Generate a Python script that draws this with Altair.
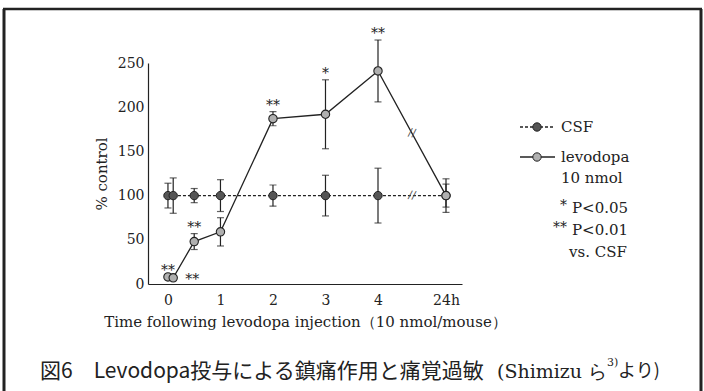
import altair as alt
import pandas as pd

# Time points (hours after injection); 24 h sits beyond a break in the axis
times = [0, 0.1, 0.5, 1, 2, 3, 4, 24]

# % control, mean and SEM
csf_mean = [100, 100, 100, 100, 100, 100, 100, 100]
csf_err = [14, 20, 8, 18, 12, 23, 31, 13]
lev_mean = [8, 7, 48, 59, 187, 192, 241, 100]
lev_err = [0, 0, 9, 16, 8, 39, 35, 19]

# Significance vs. CSF for each levodopa point
lev_sig = ["**", "**", "**", "", "**", "*", "**", ""]

tick_hours = [0, 1, 2, 3, 4, 24]
y_ticks = [0, 50, 100, 150, 200, 250]

SERIF = "DejaVu Serif"
CJK = "Noto Sans CJK JP"
INK = "#222222"

rows = []
for g, means, errs in (("CSF", csf_mean, csf_err), ("levodopa", lev_mean, lev_err)):
    for i, (t, m, e) in enumerate(zip(times, means, errs)):
        rows.append({"group": g, "idx": i, "time": t, "mean": m,
                     "lo": m - e, "hi": m + e, "err": e,
                     "sig": lev_sig[i] if g == "levodopa" else ""})
df = pd.DataFrame(rows)

caps = pd.concat([
    df[df.err > 0].assign(cap=df["lo"]),
    df[df.err > 0].assign(cap=df["hi"]),
])

# the axis is broken between 4 h and 24 h: piecewise-linear x scale
xscale = alt.Scale(domain=[-0.38, 4, 24, 24.3], range=[0, 230, 298, 314],
                   nice=False, zero=False)
yscale = alt.Scale(domain=[0, 250], nice=False)

x_axis = alt.Axis(values=tick_hours, title="Time following levodopa injection（10 nmol/mouse）",
                  labelExpr="datum.value == 24 ? '24h' : datum.label",
                  grid=False, ticks=False, labelPadding=9, labelFont=SERIF,
                  labelFontSize=14, titleFont=SERIF, titleFontSize=15,
                  titleFontWeight="normal", titlePadding=7, domainColor=INK,
                  domainWidth=1.2, labelColor=INK, titleColor=INK, labelFlush=False)
y_axis = alt.Axis(values=y_ticks, title="% control", grid=False, ticks=False,
                  labelPadding=4, labelFont=SERIF, labelFontSize=14,
                  titleFont=SERIF, titleFontSize=15, titleFontWeight="normal",
                  titlePadding=8, domainColor=INK, domainWidth=1.2,
                  labelColor=INK, titleColor=INK)

base = alt.Chart(df)
X = alt.X("time:Q", scale=xscale, axis=x_axis)
Y = alt.Y("mean:Q", scale=yscale, axis=y_axis)

csf_line = base.transform_filter(alt.datum.group == "CSF").mark_line(
    color=INK, strokeWidth=1.3, strokeDash=[3, 2]).encode(x=X, y=Y, order="idx:Q")
lev_line = base.transform_filter(alt.datum.group == "levodopa").mark_line(
    color=INK, strokeWidth=1.3).encode(x=X, y=Y, order="idx:Q")

err_rule = base.transform_filter(alt.datum.err > 0).mark_rule(
    color=INK, strokeWidth=1.2).encode(x="time:Q", y="lo:Q", y2="hi:Q")
err_cap = alt.Chart(caps).mark_tick(
    color=INK, orient="horizontal", size=7, thickness=1.2).encode(x="time:Q", y="cap:Q")

csf_pts = base.transform_filter(alt.datum.group == "CSF").mark_point(
    shape="circle", filled=True, size=70, fill="#555555", stroke=INK,
    strokeWidth=1, opacity=1).encode(x="time:Q", y="mean:Q")
lev_pts = base.transform_filter(alt.datum.group == "levodopa").mark_point(
    shape="circle", filled=True, size=70, fill="#b0b0b0", stroke=INK,
    strokeWidth=1.1, opacity=1).encode(x="time:Q", y="mean:Q")

# asterisks above the error bars (the 0.1 h point carries its mark to the right)
sig_above = base.transform_filter(
    (alt.datum.group == "levodopa") & (alt.datum.sig != "") & (alt.datum.idx != 1)
).mark_text(font=SERIF, fontSize=14, color=INK, baseline="middle", dy=-6).encode(
    x="time:Q", y="hi:Q", text="sig:N")
sig_right = base.transform_filter(
    (alt.datum.group == "levodopa") & (alt.datum.idx == 1)
).mark_text(font=SERIF, fontSize=14, color=INK, baseline="middle", dx=19, dy=2).encode(
    x="time:Q", y="mean:Q", text="sig:N")

# break marks on both curves between 4 h and 24 h
breaks = pd.DataFrame({
    "time": [14, 14],
    "mean": [(lev_mean[6] + lev_mean[7]) / 2, (csf_mean[6] + csf_mean[7]) / 2],
})
break_marks = alt.Chart(breaks).mark_text(
    text="//", font=SERIF, fontSize=11, color="#555555", angle=10).encode(
    x="time:Q", y="mean:Q")

# legend
leg_lines = pd.DataFrame({"x": [372, 372], "x2": [407, 407], "y": [64, 94],
                          "kind": ["CSF", "levodopa"]})
leg_csf_line = alt.Chart(leg_lines[leg_lines.kind == "CSF"]).mark_rule(
    color=INK, strokeWidth=1.3, strokeDash=[3, 2]).encode(
    x=alt.X("x:Q", scale=None), x2="x2:Q", y=alt.Y("y:Q", scale=None))
leg_lev_line = alt.Chart(leg_lines[leg_lines.kind == "levodopa"]).mark_rule(
    color=INK, strokeWidth=1.3).encode(
    x=alt.X("x:Q", scale=None), x2="x2:Q", y=alt.Y("y:Q", scale=None))
leg_pts = pd.DataFrame({"x": [389, 389], "y": [64, 94], "fill": ["#555555", "#b0b0b0"]})
leg_points = alt.Chart(leg_pts).mark_point(
    shape="circle", filled=True, size=70, stroke=INK, strokeWidth=1, opacity=1).encode(
    x=alt.X("x:Q", scale=None), y=alt.Y("y:Q", scale=None),
    fill=alt.Fill("fill:N", scale=None))

leg_text = pd.DataFrame({
    "x": [413, 413, 413, 424, 424, 421],
    "y": [64, 94, 115, 145, 167, 189],
    "t": ["CSF", "levodopa", "10 nmol", "P<0.05", "P<0.01", "vs. CSF"],
})
legend_labels = alt.Chart(leg_text).mark_text(
    font=SERIF, fontSize=15, color=INK, align="left", baseline="middle").encode(
    x=alt.X("x:Q", scale=None), y=alt.Y("y:Q", scale=None), text="t:N")
leg_star = pd.DataFrame({"x": [419, 419], "y": [143, 165], "t": ["*", "**"]})
legend_stars = alt.Chart(leg_star).mark_text(
    font=SERIF, fontSize=14, color=INK, align="right", baseline="middle").encode(
    x=alt.X("x:Q", scale=None), y=alt.Y("y:Q", scale=None), text="t:N")

# figure caption
cap_main = alt.Chart(pd.DataFrame({"t": ["図6　Levodopa投与による鎮痛作用と痛覚過敏"]})).mark_text(
    font=CJK, fontSize=21, color=INK, align="left", baseline="middle").encode(
    x=alt.value(-108), y=alt.value(309), text="t:N")
cap_ref = alt.Chart(pd.DataFrame({"t": ["(Shimizu ら"]})).mark_text(
    font=SERIF, fontSize=19, color=INK, align="left", baseline="middle").encode(
    x=alt.value(349), y=alt.value(309), text="t:N")
cap_sup = alt.Chart(pd.DataFrame({"t": ["3)"]})).mark_text(
    font=SERIF, fontSize=11, color=INK, align="left", baseline="middle").encode(
    x=alt.value(459), y=alt.value(300), text="t:N")
cap_end = alt.Chart(pd.DataFrame({"t": ["より)"]})).mark_text(
    font=CJK, fontSize=18, color=INK, align="left", baseline="middle").encode(
    x=alt.value(470), y=alt.value(309), text="t:N")

# frame around the figure
frame_left = alt.Chart(pd.DataFrame({"a": [0]})).mark_rule(color=INK, strokeWidth=3).encode(
    x=alt.value(-144), y=alt.value(-54), y2=alt.value(330))
frame_right = alt.Chart(pd.DataFrame({"a": [0]})).mark_rule(color=INK, strokeWidth=3).encode(
    x=alt.value(553), y=alt.value(-54), y2=alt.value(330))
frame_top = alt.Chart(pd.DataFrame({"a": [0]})).mark_rule(color=INK, strokeWidth=2.5).encode(
    x=alt.value(-145), x2=alt.value(554), y=alt.value(-54))

chart = alt.layer(
    csf_line, lev_line, err_rule, err_cap, csf_pts, lev_pts, sig_above, sig_right,
    break_marks, leg_csf_line, leg_lev_line, leg_points, legend_labels, legend_stars,
    cap_main, cap_ref, cap_sup, cap_end, frame_left, frame_right, frame_top,
).properties(
    width=314, height=221,
    autosize=alt.AutoSizeParams(type="none"),
    padding={"left": 148, "top": 63, "right": 242, "bottom": 107},
    background="white",
).configure_view(stroke=None)

chart.save("out.html", embed_options={"renderer": "svg", "actions": False})
